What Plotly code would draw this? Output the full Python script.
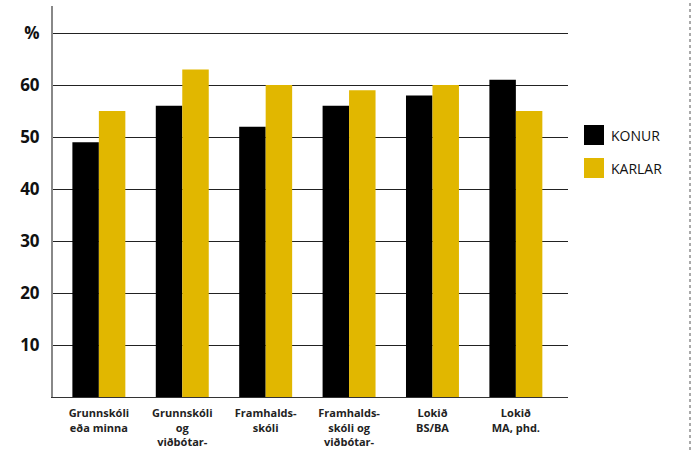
import plotly.graph_objects as go

categories = [
    "Grunnskóli<br>eða minna",
    "Grunnskóli<br>og<br>viðbótar-<br>menntun",
    "Framhalds-<br>skóli",
    "Framhalds-<br>skóli og<br>viðbótar-<br>menntun",
    "Lokið<br>BS/BA",
    "Lokið<br>MA, phd.",
]
konur = [49, 56, 52, 56, 58, 61]
karlar = [55, 63, 60, 59, 60, 55]
y_ticks = [10, 20, 30, 40, 50, 60, 70]
y_ticklabels = ["10", "20", "30", "40", "50", "60", "%"]

BLACK = "#000000"
GOLD = "#E1B700"

fig = go.Figure()
fig.add_bar(x=list(range(len(categories))), y=konur, name="KONUR",
            marker=dict(color=BLACK, line=dict(width=0)))
fig.add_bar(x=list(range(len(categories))), y=karlar, name="KARLAR",
            marker=dict(color=GOLD, line=dict(width=0)))

L, R, T, B = 53, 132, 6, 53
W, H = 700, 450
pw, ph = W - L - R, H - T - B

def px_x(px):
    return (px - L) / pw

def px_y(py):
    return (H - B - py) / ph

shapes = [
    # dotted page edge on the right
    dict(type="line", xref="paper", yref="paper",
         x0=px_x(690), x1=px_x(690), y0=px_y(450), y1=px_y(0),
         line=dict(color="#555555", width=1, dash="dot")),
]
annotations = []
for i, (name, col) in enumerate([("KONUR", BLACK), ("KARLAR", GOLD)]):
    top = 125 + i * 33
    shapes.append(dict(type="rect", xref="paper", yref="paper",
                       x0=px_x(584), x1=px_x(604), y0=px_y(top + 20), y1=px_y(top),
                       fillcolor=col, line=dict(width=0)))
    annotations.append(dict(xref="paper", yref="paper", x=px_x(609), y=px_y(top + 10),
                            text=name, showarrow=False, xanchor="left", yanchor="middle",
                            font=dict(family="Open Sans", size=14, color="#111111")))

fig.update_layout(
    width=W, height=H,
    margin=dict(l=L, r=R, t=T, b=B, autoexpand=False),
    paper_bgcolor="white", plot_bgcolor="white",
    barmode="group", bargap=0.365, bargroupgap=0,
    showlegend=False,
    shapes=shapes, annotations=annotations,
    xaxis=dict(
        range=[-0.55, 5.625], automargin=False,
        tickvals=list(range(len(categories))), ticktext=categories,
        showgrid=False, showline=True, linecolor="#333333", linewidth=1,
        ticks="", ticklabelstandoff=6,
        tickfont=dict(family="Open Sans", size=11, color="#222222", weight="bold"),
        fixedrange=True,
    ),
    yaxis=dict(
        range=[0, 75.2], automargin=False,
        tickvals=y_ticks, ticktext=y_ticklabels,
        showgrid=True, gridcolor="#222222", gridwidth=1,
        showline=True, linecolor="#888888", linewidth=2,
        zeroline=False, ticks="", ticklabelstandoff=8,
        tickfont=dict(family="Open Sans", size=17, color="#111111", weight="bold"),
        fixedrange=True,
    ),
)

fig.write_html("out.html")
